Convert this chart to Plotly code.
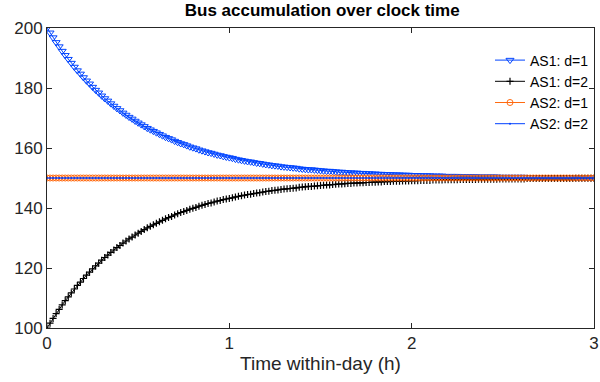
import plotly.graph_objects as go

# Time grid: one sample per minute over 3 hours
time_h = [k / 60 for k in range(181)]

as1_d1 = [
    200.0, 198.4, 196.8, 195.2, 193.8, 192.3, 190.9, 189.6, 188.3, 187.0,
    185.8, 184.7, 183.5, 182.4, 181.4, 180.3, 179.3, 178.4, 177.4, 176.5,
    175.7, 174.8, 174.0, 173.2, 172.5, 171.7, 171.0, 170.3, 169.7, 169.0,
    168.4, 167.8, 167.2, 166.6, 166.1, 165.6, 165.1, 164.6, 164.1, 163.6,
    163.2, 162.8, 162.3, 161.9, 161.5, 161.2, 160.8, 160.4, 160.1, 159.8,
    159.4, 159.1, 158.8, 158.5, 158.3, 158.0, 157.7, 157.5, 157.2, 157.0,
    156.8, 156.6, 156.3, 156.1, 155.9, 155.7, 155.5, 155.4, 155.2, 155.0,
    154.9, 154.7, 154.5, 154.4, 154.2, 154.1, 154.0, 153.8, 153.7, 153.6,
    153.5, 153.4, 153.3, 153.1, 153.0, 152.9, 152.8, 152.8, 152.7, 152.6,
    152.5, 152.4, 152.3, 152.3, 152.2, 152.1, 152.0, 152.0, 151.9, 151.8,
    151.8, 151.7, 151.7, 151.6, 151.6, 151.5, 151.5, 151.4, 151.4, 151.3,
    151.3, 151.2, 151.2, 151.2, 151.1, 151.1, 151.1, 151.0, 151.0, 151.0,
    150.9, 150.9, 150.9, 150.8, 150.8, 150.8, 150.8, 150.7, 150.7, 150.7,
    150.7, 150.6, 150.6, 150.6, 150.6, 150.6, 150.5, 150.5, 150.5, 150.5,
    150.5, 150.5, 150.4, 150.4, 150.4, 150.4, 150.4, 150.4, 150.4, 150.3,
    150.3, 150.3, 150.3, 150.3, 150.3, 150.3, 150.3, 150.3, 150.2, 150.2,
    150.2, 150.2, 150.2, 150.2, 150.2, 150.2, 150.2, 150.2, 150.2, 150.2,
    150.2, 150.2, 150.2, 150.2, 150.1, 150.1, 150.1, 150.1, 150.1, 150.1,
    150.1,
]

as1_d2 = [
    100.0, 101.6, 103.2, 104.8, 106.2, 107.7, 109.1, 110.4, 111.7, 113.0,
    114.2, 115.3, 116.5, 117.6, 118.6, 119.7, 120.7, 121.6, 122.6, 123.5,
    124.3, 125.2, 126.0, 126.8, 127.5, 128.3, 129.0, 129.7, 130.3, 131.0,
    131.6, 132.2, 132.8, 133.4, 133.9, 134.4, 134.9, 135.4, 135.9, 136.4,
    136.8, 137.2, 137.7, 138.1, 138.5, 138.8, 139.2, 139.6, 139.9, 140.2,
    140.6, 140.9, 141.2, 141.5, 141.7, 142.0, 142.3, 142.5, 142.8, 143.0,
    143.2, 143.4, 143.7, 143.9, 144.1, 144.3, 144.5, 144.6, 144.8, 145.0,
    145.1, 145.3, 145.5, 145.6, 145.8, 145.9, 146.0, 146.2, 146.3, 146.4,
    146.5, 146.6, 146.7, 146.9, 147.0, 147.1, 147.2, 147.2, 147.3, 147.4,
    147.5, 147.6, 147.7, 147.7, 147.8, 147.9, 148.0, 148.0, 148.1, 148.2,
    148.2, 148.3, 148.3, 148.4, 148.4, 148.5, 148.5, 148.6, 148.6, 148.7,
    148.7, 148.8, 148.8, 148.8, 148.9, 148.9, 148.9, 149.0, 149.0, 149.0,
    149.1, 149.1, 149.1, 149.2, 149.2, 149.2, 149.2, 149.3, 149.3, 149.3,
    149.3, 149.4, 149.4, 149.4, 149.4, 149.4, 149.5, 149.5, 149.5, 149.5,
    149.5, 149.5, 149.6, 149.6, 149.6, 149.6, 149.6, 149.6, 149.6, 149.7,
    149.7, 149.7, 149.7, 149.7, 149.7, 149.7, 149.7, 149.7, 149.8, 149.8,
    149.8, 149.8, 149.8, 149.8, 149.8, 149.8, 149.8, 149.8, 149.8, 149.8,
    149.8, 149.8, 149.8, 149.8, 149.9, 149.9, 149.9, 149.9, 149.9, 149.9,
    149.9,
]

# AS2 stays at its steady state for both d values
as2_level = 150.0
as2_d1 = [as2_level] * len(time_h)
as2_d2 = [as2_level] * len(time_h)

series_names = ["AS1: d=1", "AS1: d=2", "AS2: d=1", "AS2: d=2"]
x_ticks = [0, 1, 2, 3]
y_ticks = [100, 120, 140, 160, 180, 200]

FONT = "Liberation Sans, Arial, Helvetica, sans-serif"
AX = "#262626"

fig = go.Figure()
fig.add_trace(go.Scatter(
    x=time_h, y=as1_d1, name=series_names[0], mode="lines+markers",
    line=dict(color="#0044FF", width=1),
    marker=dict(symbol="triangle-down-open", size=7, color="#0044FF",
                line=dict(width=1)),
))
fig.add_trace(go.Scatter(
    x=time_h, y=as1_d2, name=series_names[1], mode="lines+markers",
    line=dict(color="#000000", width=1),
    marker=dict(symbol="cross-thin-open", size=5, color="#000000",
                line=dict(width=1.2, color="#000000")),
))
fig.add_trace(go.Scatter(
    x=time_h, y=as2_d1, name=series_names[2], mode="lines+markers",
    line=dict(color="#FF6A10", width=1),
    marker=dict(symbol="circle-open", size=6, color="#FF6A10",
                line=dict(width=1)),
))
fig.add_trace(go.Scatter(
    x=time_h, y=as2_d2, name=series_names[3], mode="lines+markers",
    line=dict(color="#0040FF", width=1),
    marker=dict(symbol="circle", size=2, color="#0040FF"),
))

fig.update_layout(
    width=600, height=382,
    margin=dict(l=47, r=1, t=28, b=54),
    paper_bgcolor="white", plot_bgcolor="white",
    font=dict(family=FONT, size=17, color=AX),
    title=dict(text="<b>Bus accumulation over clock time</b>",
               x=0.537, xanchor="center", y=0.99, yanchor="top",
               font=dict(size=17, color="#000000")),
    showlegend=True,
    legend=dict(x=1.0, xanchor="right", y=0.945, yanchor="top",
                bgcolor="rgba(255,255,255,0)", font=dict(size=14, color="#000000"),
                tracegroupgap=0, itemwidth=30),
    xaxis=dict(range=[0, 3], tickvals=x_ticks, ticks="inside", ticklen=5,
               tickcolor=AX, showline=True, linecolor=AX, linewidth=1,
               mirror="ticks", showgrid=False, zeroline=False,
               ticklabeloverflow="allow",
               title=dict(text="Time within-day (h)", font=dict(size=19), standoff=4)),
    yaxis=dict(range=[100, 200], tickvals=y_ticks, ticks="inside", ticklen=5,
               tickcolor=AX, showline=True, linecolor=AX, linewidth=1,
               mirror="ticks", showgrid=False, zeroline=False,
               ticklabeloverflow="allow"),
)

fig.write_html("out.html")
